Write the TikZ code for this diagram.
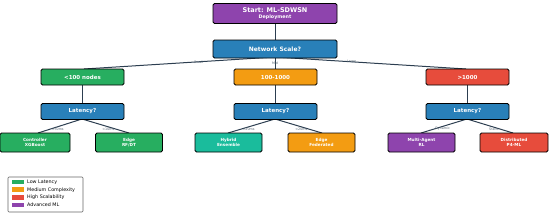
\documentclass[tikz,border=0pt]{standalone}
\usepackage{fontspec}
\setmainfont{DejaVu Sans}
\definecolor{cpurple}{HTML}{8E44AD}
\definecolor{cblue}{HTML}{2980B9}
\definecolor{cgreen}{HTML}{27AE60}
\definecolor{corange}{HTML}{F39C12}
\definecolor{cred}{HTML}{E74C3C}
\definecolor{cteal}{HTML}{1ABC9C}
\definecolor{cedge}{HTML}{2C3E50}
\begin{document}
\begin{tikzpicture}[x=1pt,y=-1pt,
  box/.style={draw=black,line width=0.8pt,rounded corners=1.5pt,text=white,font=\bfseries,align=center,inner sep=0pt},
  bigbox/.style={box,minimum width=124pt,minimum height=20pt},
  midbox/.style={box,minimum width=83pt,minimum height=16pt,font=\fontsize{5.5}{6}\selectfont\bfseries},
  leafbox/.style={box,minimum width=67pt,minimum height=19pt,font=\fontsize{4.2}{5}\selectfont\bfseries},
  conn/.style={draw=cedge,line width=1pt},
  elabel/.style={font=\fontsize{3.3}{4}\selectfont,text=cedge!80,inner sep=0.5pt},
  legpatch/.style={minimum width=12pt,minimum height=4.5pt,inner sep=0pt}
]
\useasboundingbox (0,0) rectangle (550,217);
% edges first
\coordinate (nsb) at (275,57);
\coordinate (l1t) at (84,69);
\coordinate (l2t) at (275,69);
\coordinate (l3t) at (466,69);
\draw[conn] (275,24) -- (275,40);
\draw[conn] (nsb) -- (l1t) node[elabel,pos=0.4] {Small};
\draw[conn] (nsb) -- (l2t) node[elabel,pos=0.5] {Mid};
\draw[conn] (nsb) -- (l3t) node[elabel,pos=0.4] {Large};
\draw[conn] (82,85) -- (82,104);
\draw[conn] (275,85) -- (275,104);
\draw[conn] (467,85) -- (467,104);
% latency to leaves
\draw[conn] (82,119) -- (38,133) node[elabel,pos=0.72,right=0.5pt] {>50ms};
\draw[conn] (82,119) -- (129,133) node[elabel,pos=0.72,left=0.5pt] {<10ms};
\draw[conn] (275,119) -- (228,133) node[elabel,pos=0.72,right=0.5pt] {>20ms};
\draw[conn] (275,119) -- (322,133) node[elabel,pos=0.72,left=0.5pt] {<20ms};
\draw[conn] (467,119) -- (421,133) node[elabel,pos=0.72,right=0.5pt] {Dynamic};
\draw[conn] (467,119) -- (513,133) node[elabel,pos=0.72,left=0.5pt] {Static};
% nodes
\node[bigbox,fill=cpurple,font=\fontsize{5}{6.2}\selectfont\bfseries] (start) at (275,13.5) {{\fontsize{6.5}{7}\selectfont Start: ML-SDWSN}\\{\fontsize{4.8}{5.5}\selectfont Deployment}};
\node[bigbox,fill=cblue,minimum height=18pt,font=\fontsize{6}{7}\selectfont\bfseries] (scale) at (275,49) {Network Scale?};
\node[midbox,fill=cgreen] (small) at (82.5,77) {<100 nodes};
\node[midbox,fill=corange] (mid) at (275.5,77) {100-1000};
\node[midbox,fill=cred] (large) at (467.5,77) {>1000};
\node[midbox,fill=cblue] (lat1) at (82.5,111.5) {Latency?};
\node[midbox,fill=cblue] (lat2) at (275.5,111.5) {Latency?};
\node[midbox,fill=cblue] (lat3) at (467.5,111.5) {Latency?};
\node[leafbox,fill=cgreen,minimum width=70pt] (ctrl) at (35,142.5) {Controller\\XGBoost};
\node[leafbox,fill=cgreen] (edge1) at (129,142.5) {Edge\\RF/DT};
\node[leafbox,fill=cteal] (hyb) at (228.5,142.5) {Hybrid\\Ensemble};
\node[leafbox,fill=corange] (edge2) at (321.5,142.5) {Edge\\Federated};
\node[leafbox,fill=cpurple] (marl) at (421.5,142.5) {Multi-Agent\\RL};
\node[leafbox,fill=cred,minimum width=68pt] (dist) at (514,142.5) {Distributed\\P4-ML};
% legend
\node[draw=black!60,line width=0.6pt,rounded corners=1pt,fill=white,minimum width=75pt,minimum height=35pt,inner sep=0pt] (leg) at (45.5,194.5) {};
\foreach \c/\t [count=\i] in {cgreen/Low Latency,corange/Medium Complexity,cred/High Scalability,cpurple/Advanced ML}{
  \node[legpatch,fill=\c] (p\i) at (18,{174.5+\i*7.6}) {};
  \node[anchor=west,font=\fontsize{4.8}{5}\selectfont,inner sep=0pt] (t\i) at (27,{174.5+\i*7.6}) {\t};
}
\end{tikzpicture}
\end{document}
